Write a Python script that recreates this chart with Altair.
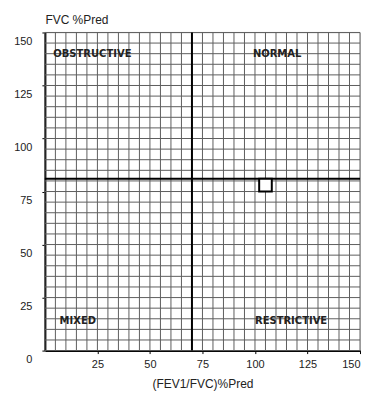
import altair as alt
import pandas as pd

# --- data ---
x_tick_values = [25, 50, 75, 100, 125, 150]
y_tick_values = [0, 25, 50, 75, 100, 125, 150]
grid_values = list(range(0, 155, 5))
fev_cutoff = [70]
fvc_cutoff = [81]
point_x = [105]
point_y = [78]
quad_labels = ["OBSTRUCTIVE", "NORMAL", "MIXED", "RESTRICTIVE"]
quad_x = [4, 99, 7, 100]
quad_y = [140, 140, 14, 14]

xs = alt.Scale(domain=[0, 150], nice=False, zero=False)
ys = alt.Scale(domain=[0, 150], nice=False, zero=False)

grid_df = pd.DataFrame({"g": grid_values})
vgrid = alt.Chart(grid_df).mark_rule(color="#5e5e5e", strokeWidth=1).encode(
    x=alt.X("g:Q", scale=xs,
            axis=alt.Axis(values=x_tick_values, grid=False, title="(FEV1/FVC)%Pred",
                          labelFontSize=11, titleFontSize=12, titleFontWeight="normal",
                          labelColor="#222", titleColor="#222", domainColor="#000",
                          domainWidth=2, tickColor="#000", tickSize=3,
                          labelPadding=5, titlePadding=9,
                          labelFont="Liberation Sans", titleFont="Liberation Sans"))
)
hgrid = alt.Chart(grid_df).mark_rule(color="#5e5e5e", strokeWidth=1).encode(
    y=alt.Y("g:Q", scale=ys,
            axis=alt.Axis(values=y_tick_values, grid=False, title="FVC %Pred",
                          titleAngle=0, titleAlign="left", titleBaseline="bottom",
                          titleX=0, titleY=-6,
                          labelFontSize=11, titleFontSize=12, titleFontWeight="normal",
                          labelColor="#222", titleColor="#222", domainColor="#000",
                          domainWidth=2, tickColor="#000", tickSize=3,
                          labelOffset=9, labelPadding=10,
                          labelFont="Liberation Sans", titleFont="Liberation Sans"))
)

vcut = alt.Chart(pd.DataFrame({"v": fev_cutoff})).mark_rule(color="#000", strokeWidth=2).encode(
    x=alt.X("v:Q", scale=xs))
hcut = alt.Chart(pd.DataFrame({"v": fvc_cutoff})).mark_rule(color="#000", strokeWidth=2).encode(
    y=alt.Y("v:Q", scale=ys))

pt = alt.Chart(pd.DataFrame({"x": point_x, "y": point_y})).mark_point(
    shape="square", filled=True, fill="white", stroke="#000", strokeWidth=2,
    size=160, opacity=1).encode(
    x=alt.X("x:Q", scale=xs), y=alt.Y("y:Q", scale=ys))

txt_df = pd.DataFrame({"label": quad_labels, "x": quad_x, "y": quad_y})
txt = alt.Chart(txt_df).mark_text(
    align="left", baseline="middle", fontSize=10, fontWeight="bold",
    font="DejaVu Sans", color="#222").encode(
    x=alt.X("x:Q", scale=xs), y=alt.Y("y:Q", scale=ys), text="label:N")

chart = alt.layer(vgrid, hgrid, vcut, hcut, pt, txt).properties(
    width=316, height=319
).configure_view(stroke="#333", strokeWidth=1.5).configure(background="white")

chart.save("out.html", embed_options={"renderer": "svg", "actions": False})
